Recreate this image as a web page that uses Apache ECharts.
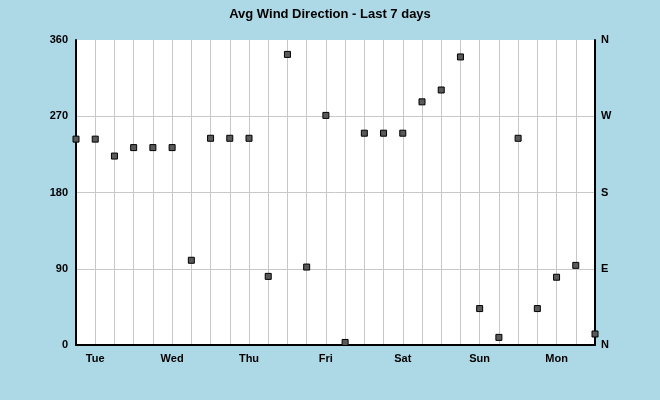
<!DOCTYPE html>
<html>
<head>
<meta charset="utf-8">
<script src="https://cdn.jsdelivr.net/npm/echarts@6/dist/echarts.min.js"></script>
<style>
  html, body { margin: 0; padding: 0; background: #add8e6; }
  #main { width: 660px; height: 400px; }
</style>
</head>
<body>
<div id="main"></div>
<script>
// 6 hourly samples, day name shown at midday
var timeLabels = [
	"Tue 06:00", "Tue 12:00", "Tue 18:00", "Wed 00:00",
	"Wed 06:00", "Wed 12:00", "Wed 18:00", "Thu 00:00",
	"Thu 06:00", "Thu 12:00", "Thu 18:00", "Fri 00:00",
	"Fri 06:00", "Fri 12:00", "Fri 18:00", "Sat 00:00",
	"Sat 06:00", "Sat 12:00", "Sat 18:00", "Sun 00:00",
	"Sun 06:00", "Sun 12:00", "Sun 18:00", "Mon 00:00",
	"Mon 06:00", "Mon 12:00", "Mon 18:00", "Tue 00:00"
];
var dirValues = [
	243, 243, 223, 233, 233, 233, 100, 244,
	244, 244, 81, 343, 92, 271, 3, 250,
	250, 250, 287, 301, 340, 43, 9, 244,
	43, 80, 94, 13
];
var dirTicks = [0, 90, 180, 270, 360];
var compassTicks = ["N", "E", "S", "W", "N"];

var chart = echarts.init(document.getElementById("main"));

var labelFont = {
	color: "#000",
	fontWeight: "bold",
	fontSize: 11,
	fontFamily: "Liberation Sans, Arial, sans-serif"
};

var option = {
	backgroundColor: "#add8e6",
	animation: false,
	title: {
		text: "Avg Wind Direction - Last 7 days",
		left: "center",
		top: 3,
		textStyle: {
			color: "#000",
			fontWeight: "bold",
			fontSize: 13,
			fontFamily: "Liberation Sans, Arial, sans-serif"
		}
	},
	grid: {
		left: 76,
		right: 65,
		top: 40,
		bottom: 55,
		show: true,
		backgroundColor: "#fff",
		borderWidth: 0
	},
	xAxis: {
		type: "category",
		data: timeLabels,
		boundaryGap: false,
		axisLine: { lineStyle: { color: "#000", width: 2 } },
		axisTick: { show: false },
		axisLabel: Object.assign({
			interval: 0,
			margin: 8,
			formatter: function(val, idx) {
				return idx % 4 === 1 ? val.split(" ")[0] : "";
			}
		}, labelFont),
		splitLine: { show: true, interval: 0, lineStyle: { color: "#c8c8c8" } }
	},
	yAxis: [{
		type: "value",
		min: dirTicks[0],
		max: dirTicks[dirTicks.length - 1],
		interval: 90,
		position: "left",
		axisLine: { show: true, lineStyle: { color: "#000", width: 2 } },
		axisTick: { show: false },
		axisLabel: Object.assign({ margin: 8 }, labelFont),
		// no grey line along the top edge
		splitLine: { show: true, lineStyle: { color: ["#c8c8c8", "#c8c8c8", "#c8c8c8", "#c8c8c8", "#fff"] } }
	}, {
		type: "value",
		min: dirTicks[0],
		max: dirTicks[dirTicks.length - 1],
		interval: 90,
		position: "right",
		axisLine: { show: true, lineStyle: { color: "#000", width: 2 } },
		axisTick: { show: false },
		axisLabel: Object.assign({
			margin: 6,
			formatter: function(v) {
				return compassTicks[dirTicks.indexOf(v)];
			}
		}, labelFont),
		splitLine: { show: false }
	}],
	series: [{
		type: "scatter",
		data: dirValues,
		symbol: "rect",
		symbolSize: 6,
		itemStyle: {
			color: "#5a5a5a",
			borderColor: "#000",
			borderWidth: 1,
			opacity: 1
		}
	}]
};
chart.setOption(option);
</script>
</body>
</html>
